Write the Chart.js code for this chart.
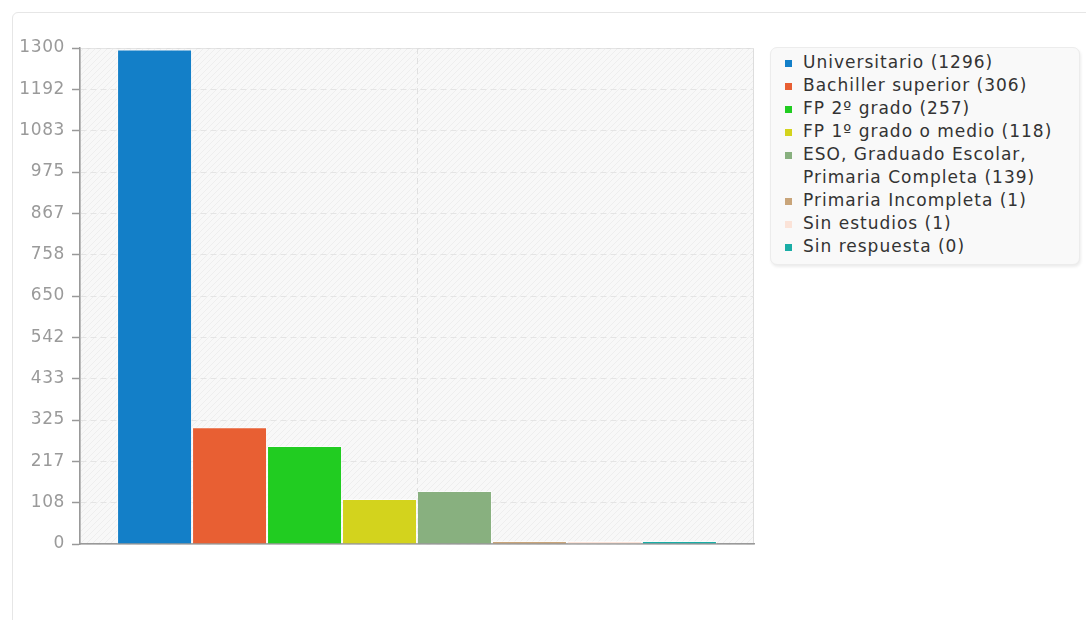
<!DOCTYPE html>
<html lang="es">
<head>
  <meta charset="UTF-8">
  <title>Nivel de estudios</title>
  <style>
    body {
      margin: 0;
      background: #fff;
      font-family: "DejaVu Sans", sans-serif;
      overflow: hidden;
    }
    .card {
      position: absolute;
      left: 12px;
      top: 12px;
      width: 1200px;
      height: 700px;
      border: 1px solid #e6e6e6;
      border-radius: 6px;
      box-sizing: border-box;
    }
    .chart-box {
      position: absolute;
      left: 0;
      top: 0;
      width: 760px;
      height: 600px;
    }
    #legend {
      position: absolute;
      left: 770px;
      top: 47px;
      width: 310px;
      box-sizing: border-box;
      padding: 3px 4px 6px 12px;
      background: #f9f9f9;
      border: 1px solid #ececec;
      border-radius: 7px;
      box-shadow: 1px 2px 3px rgba(0,0,0,0.08);
      font-size: 17px;
      letter-spacing: 1px;
      color: #333;
    }
    #legend .item {
      display: flex;
      align-items: flex-start;
      line-height: 23px;
    }
    #legend .sw {
      width: 7px;
      height: 7px;
      margin: 9px 11px 0 2px;
      flex: none;
    }
  </style>
  <script src="https://cdn.jsdelivr.net/npm/chart.js"></script>
</head>
<body>
  <div class="card"></div>
  <div class="chart-box"><canvas id="estudios"></canvas></div>
  <div id="legend"></div>

  <script>
    // datos
    const categorias = ['Universitario', 'Bachiller superior', 'FP 2º grado', 'FP 1º grado o medio',
      'ESO, Graduado Escolar,\nPrimaria Completa', 'Primaria Incompleta', 'Sin estudios', 'Sin respuesta'];
    const valores = [1296, 306, 257, 118, 139, 1, 1, 0];
    const colores = ['#137fc8', '#e85f33', '#21cc21', '#d3d31d', '#88b07f', '#c9a57a', '#fbe3d8', '#1aada6'];
    const yTicks = [0, 108, 217, 325, 433, 542, 650, 758, 867, 975, 1083, 1192, 1300];
    const yMax = 1300;

    // fondo rayado del area de trazado
    function makeHatch() {
      const c = document.createElement('canvas');
      c.width = 6; c.height = 6;
      const g = c.getContext('2d');
      g.fillStyle = '#f8f8f8';
      g.fillRect(0, 0, 6, 6);
      g.strokeStyle = '#eeeeee';
      g.lineWidth = 1;
      g.beginPath();
      g.moveTo(0, 6); g.lineTo(6, 0);
      g.moveTo(-1, 1); g.lineTo(1, -1);
      g.moveTo(5, 7); g.lineTo(7, 5);
      g.stroke();
      return c;
    }

    const plotBg = {
      id: 'plotBg',
      beforeDraw(chart) {
        const { ctx, chartArea: a } = chart;
        ctx.letterSpacing = '0.6px';
        ctx.save();
        ctx.fillStyle = ctx.createPattern(makeHatch(), 'repeat');
        ctx.fillRect(a.left, a.top, a.right - a.left, a.bottom - a.top);
        ctx.strokeStyle = '#dddddd';
        ctx.lineWidth = 1;
        ctx.strokeRect(a.left + 0.5, a.top + 0.5, a.right - a.left - 1, a.bottom - a.top);
        ctx.restore();
      }
    };

    const datasets = categorias.map((cat, i) => ({
      label: cat,
      data: [valores[i]],
      backgroundColor: colores[i],
      borderColor: 'rgba(255,255,255,0.55)',
      borderWidth: 1,
      minBarLength: 3,
      categoryPercentage: 0.89,
      barPercentage: 1.0
    }));

    const ctx = document.getElementById('estudios').getContext('2d');
    new Chart(ctx, {
      type: 'bar',
      data: { labels: [''], datasets: datasets },
      options: {
        responsive: true,
        maintainAspectRatio: false,
        animation: false,
        layout: { padding: { left: 0, top: 48, right: 6, bottom: 56 } },
        plugins: { legend: { display: false }, tooltip: { enabled: false } },
        scales: {
          x: {
            grid: {
              offset: false,
              color: '#e0e0e0',
              drawTicks: false
            },
            border: { display: true, color: '#999999', width: 1.5, dash: [6, 4] },
            ticks: { display: false },
            afterFit: s => { s.height = 0; }
          },
          y: {
            min: 0,
            max: yMax,
            afterBuildTicks: s => { s.ticks = yTicks.map(v => ({ value: v })); },
            afterFit: s => { s.width = 80; },
            grid: {
              color: '#e4e4e4',
              tickLength: 8,
              tickColor: '#999999',
              tickBorderDash: [],
              tickWidth: 1.5
            },
            border: { display: true, color: '#999999', width: 1.5, dash: [6, 4] },
            ticks: {
              color: '#9a9a9a',
              padding: 7,
              font: { family: 'DejaVu Sans', size: 17 },
              callback: v => String(Math.round(v))
            }
          }
        }
      },
      plugins: [plotBg]
    });

    // leyenda en html a partir de los mismos arrays
    const legend = document.getElementById('legend');
    categorias.forEach((cat, i) => {
      const item = document.createElement('div');
      item.className = 'item';
      const sw = document.createElement('span');
      sw.className = 'sw';
      sw.style.background = colores[i];
      const txt = document.createElement('span');
      txt.style.whiteSpace = 'pre';
      txt.textContent = cat + ' (' + valores[i] + ')';
      item.appendChild(sw);
      item.appendChild(txt);
      legend.appendChild(item);
    });
  </script>
</body>
</html>
